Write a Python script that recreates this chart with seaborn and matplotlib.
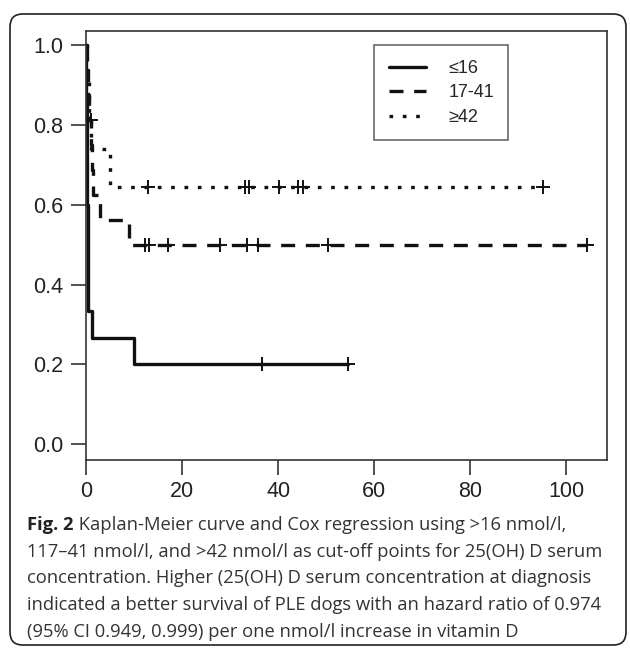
import numpy as np
import pandas as pd
import matplotlib
matplotlib.use("Agg")
import matplotlib.pyplot as plt
import seaborn as sns
from matplotlib.lines import Line2D
from matplotlib.patches import FancyBboxPatch

sns.set_style("white")
plt.rcParams['font.family'] = ['Liberation Sans', 'DejaVu Sans']

# groups (25(OH)D cut-offs)
groups = ['≤16', '17-41', '≥42']

# Kaplan-Meier step curves (time, survival)
t_low = [0, 0.1, 0.2, 0.3, 0.4, 0.5, 1.3, 10.0, 54.6]
s_low = [1.0, 0.867, 0.733, 0.6, 0.467, 0.333, 0.267, 0.2, 0.2]
t_mid = [0, 0.2, 0.4, 0.6, 1.1, 1.2, 1.5, 2.9, 9.0, 104.3]
s_mid = [1.0, 0.9375, 0.875, 0.8125, 0.75, 0.6875, 0.625, 0.5625, 0.5, 0.5]
t_high = [0, 0.3, 0.6, 1.0, 5.1, 95.1]
s_high = [1.0, 0.92, 0.83, 0.74, 0.645, 0.645]

# censored observations
c_low_t = [36.6, 54.6]
c_low_s = [0.2, 0.2]
c_mid_t = [1.0, 12.3, 13.1, 17.0, 27.9, 33.5, 35.9, 50.5, 104.3]
c_mid_s = [0.8125, 0.5, 0.5, 0.5, 0.5, 0.5, 0.5, 0.5, 0.5]
c_high_t = [13.0, 33.1, 34.0, 40.1, 44.2, 45.1, 95.1]
c_high_s = [0.645] * 7

curves = pd.concat([
    pd.DataFrame({'time': t_low, 'surv': s_low, 'group': groups[0]}),
    pd.DataFrame({'time': t_mid, 'surv': s_mid, 'group': groups[1]}),
    pd.DataFrame({'time': t_high, 'surv': s_high, 'group': groups[2]}),
])
censor = pd.concat([
    pd.DataFrame({'time': c_low_t, 'surv': c_low_s, 'group': groups[0]}),
    pd.DataFrame({'time': c_mid_t, 'surv': c_mid_s, 'group': groups[1]}),
    pd.DataFrame({'time': c_high_t, 'surv': c_high_s, 'group': groups[2]}),
])

dash_map = {groups[0]: '', groups[1]: (4.2, 3.2), groups[2]: (1.1, 2.9)}
lw = 2.4
ink = '#111111'

fig = plt.figure(figsize=(6.3, 6.51), dpi=100)
ax = fig.add_axes([0.1365, 0.2934, 0.827, 0.6586])

sns.lineplot(data=curves, x='time', y='surv', style='group', dashes=dash_map,
             color=ink, linewidth=lw, drawstyle='steps-post', estimator=None,
             sort=False, legend=False, ax=ax)
sns.scatterplot(data=censor, x='time', y='surv', marker='+', s=110,
                color=ink, linewidth=1.4, legend=False, ax=ax, zorder=3)

ax.set_xlim(0, 108.5)
ax.set_ylim(-0.04, 1.035)
ax.set_xticks([0, 20, 40, 60, 80, 100])
ax.set_yticks([0.0, 0.2, 0.4, 0.6, 0.8, 1.0])
ax.set_yticklabels(['0.0', '0.2', '0.4', '0.6', '0.8', '1.0'])
ax.set_xlabel('')
ax.set_ylabel('')
for sp in ax.spines.values():
    sp.set_visible(True)
    sp.set_color('#333333')
    sp.set_linewidth(1.2)
ax.tick_params(axis='both', direction='out', length=11, width=1.2,
               bottom=True, left=True,
               color='#333333', labelsize=15.5, labelcolor='#222222')
ax.tick_params(axis='x', pad=4)
ax.tick_params(axis='y', pad=5.5)

handles = [Line2D([], [], color=ink, lw=lw, linestyle='-'),
           Line2D([], [], color=ink, lw=lw, dashes=dash_map[groups[1]]),
           Line2D([], [], color=ink, lw=lw, dashes=dash_map[groups[2]])]
leg = ax.legend(handles, groups, loc='upper left', bbox_to_anchor=(0.553, 0.967),
                borderaxespad=0, fontsize=13, frameon=True, fancybox=False,
                edgecolor='#333333', handlelength=2.1, handletextpad=1.2,
                labelspacing=0.42, borderpad=0.8)
leg.get_frame().set_linewidth(1.1)

# caption
cap_size = 13.2
cap_font = ['Open Sans', 'DejaVu Sans']
lines = [
    ' Kaplan-Meier curve and Cox regression using >16 nmol/l,',
    '117\u201341 nmol/l, and >42 nmol/l as cut-off points for 25(OH) D serum',
    'concentration. Higher (25(OH) D serum concentration at diagnosis',
    'indicated a better survival of PLE dogs with an hazard ratio of 0.974',
    '(95% CI 0.949, 0.999) per one nmol/l increase in vitamin D',
]
ys = [525, 552, 578, 605, 632]
x0 = 27 / 630
bold = fig.text(x0, 1 - ys[0] / 651, 'Fig. 2', fontsize=cap_size, family=cap_font,
                fontweight='bold', va='center', ha='left', color='#222222')
fig.canvas.draw()
bb = bold.get_window_extent().transformed(fig.transFigure.inverted())
fig.text(bb.x1, 1 - ys[0] / 651, lines[0], fontsize=cap_size, family=cap_font,
         va='center', ha='left', color='#333333')
for txt, y in zip(lines[1:], ys[1:]):
    fig.text(x0, 1 - y / 651, txt, fontsize=cap_size, family=cap_font,
             va='center', ha='left', color='#333333')

# rounded frame around the whole figure
frame = FancyBboxPatch((10 / 630, 6 / 651), 616 / 630, 631 / 651,
                       boxstyle='round,pad=0,rounding_size=0.02',
                       transform=fig.transFigure, fill=False,
                       edgecolor='#222222', linewidth=1.2)
fig.patches.append(frame)

fig.savefig('out.png', dpi=100)
